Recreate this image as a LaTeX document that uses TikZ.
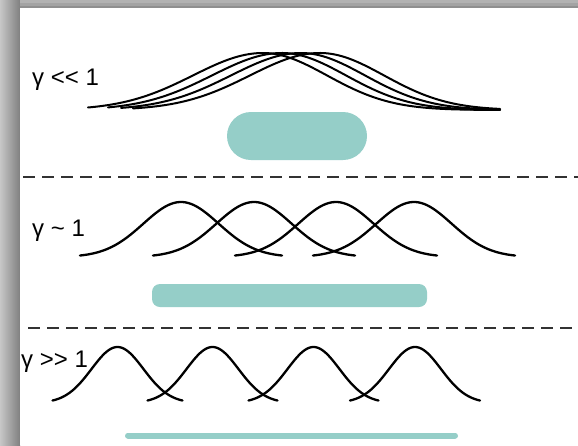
\documentclass[tikz,border=0pt]{standalone}
\usepackage{fontspec}
\setmainfont{Liberation Sans}[Ligatures=TeXOff]
\definecolor{pillfill}{RGB}{149,206,200}
\definecolor{framegray}{RGB}{176,176,176}
\definecolor{rule}{RGB}{50,50,50}
\tikzset{
  wave/.style={line width=2.3pt, black, line cap=round, line join=round},
  thinwave/.style={line width=2pt, black, line cap=round, line join=round},
  divider/.style={line width=2pt, rule, dash pattern=on 12pt off 7pt},
  pill/.style={fill=pillfill, draw=none},
  regime/.style={anchor=base west, inner sep=0pt, font=\fontsize{24}{28}\selectfont}
}
\begin{document}
\begin{tikzpicture}[x=1pt,y=-1pt]
\useasboundingbox (0,0) rectangle (578,445);
% grey frame with shadow toward the sheet
\fill[framegray] (0,0) rectangle (578,445);
\shade[left color=black!22, right color=black!50] (0,0) rectangle (20,445);
\fill[black!30] (20,0) rectangle (578,3);
\fill[black!36] (20,3) rectangle (578,6);
\fill[black!44] (20,6) rectangle (578,8);
\fill[white] (20,8) rectangle (578,445);

% regime labels
\node[regime] (weak) at (32,85) {γ <{}< 1};
\node[regime] (mid) at (32,236) {γ \char"007E{} 1};
\node[regime] (strong) at (21,367) {γ >{}> 1};

% strongly overlapping, slightly skewed profiles
\foreach \c/\s in {263/88,282/108,301/121,320/133}
  \draw[thinwave] plot[domain=\s:500, samples=140, smooth]
    (\x,{110-57*exp(-0.5*((\x-\c)/ifthenelse(\x<\c,70,64))^2)});
\path[pill, rounded corners=24pt] (227,112) rectangle (367,160);

\draw[divider] (23,177) -- (578,177);

% partially overlapping profiles
\foreach \c in {181,254,336,414}
  \draw[wave] plot[domain=\c-101:\c+101, samples=90, smooth]
    (\x,{257-55*exp(-0.5*((\x-\c)/37.6)^2)});
\path[pill, rounded corners=8pt] (152,284) rectangle (427,307);

\draw[divider] (28,328) -- (572,328);

% well separated profiles
\foreach \c in {117.5,212.5,313.5,415}
  \draw[wave] plot[domain=\c-65:\c+65, samples=70, smooth]
    (\x,{403-56*exp(-0.5*((\x-\c)/26)^2)});
\draw[line width=6pt, pillfill, line cap=round] (128,435.5) -- (455,435.5);
\end{tikzpicture}
\end{document}
